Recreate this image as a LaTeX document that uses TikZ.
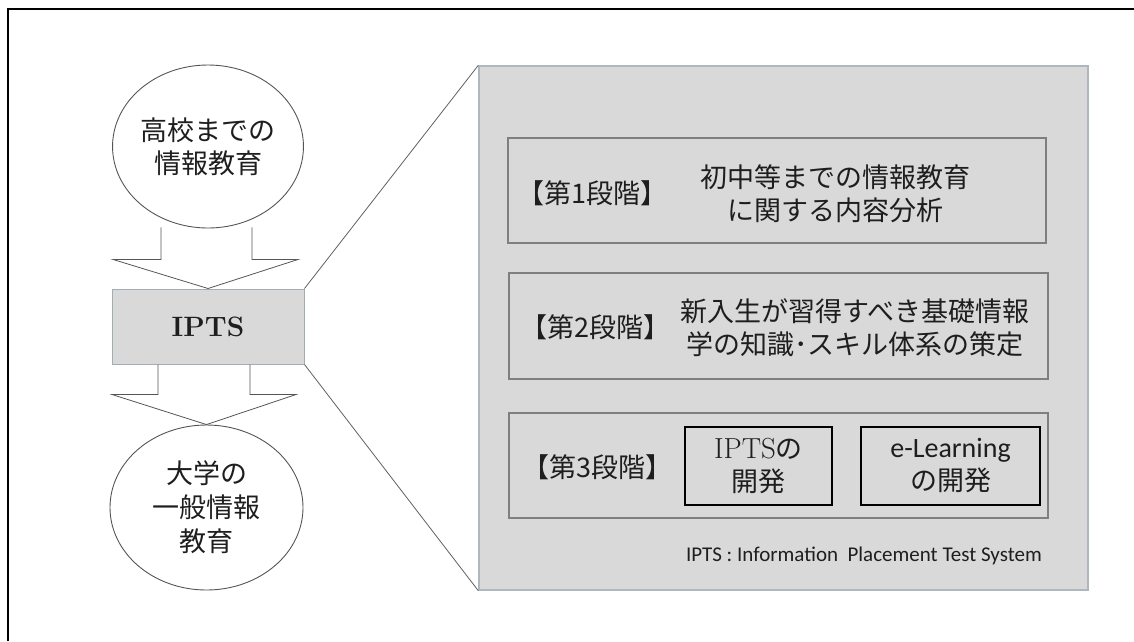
\documentclass[tikz,border=0pt]{standalone}
\usepackage{fontspec}
\newfontfamily\jp{Noto Sans CJK JP}
\newfontfamily\calfont{Carlito}
\usetikzlibrary{shapes.geometric,calc}
\definecolor{panelgray}{HTML}{D9D9D9}
\definecolor{paneledge}{HTML}{AEB6BE}
\definecolor{iptsedge}{HTML}{A4ACB4}
\definecolor{lineg}{HTML}{555555}
\definecolor{stageedge}{HTML}{7F7F7F}
\definecolor{txt}{HTML}{1E1E1E}
\tikzset{
  jptext/.style={font=\jp\fontsize{27}{33}\selectfont, text=txt, inner sep=0, align=center},
  oval/.style={ellipse, draw=lineg, line width=0.9pt, inner sep=0, jptext},
  blockarr/.style={draw=lineg, line width=0.8pt},
  zoomline/.style={draw=gray!75!black, line width=0.8pt},
  stagebox/.style={draw=stageedge, line width=1.1pt, inner sep=0},
  devbox/.style={draw=black, line width=2.6pt, inner sep=0, text=txt, align=center}
}
\begin{document}
\begin{tikzpicture}[x=1pt,y=-1pt]
\useasboundingbox (0,0) rectangle (1134,641);
% outer frame (top and left edges visible)
\draw[line width=2pt, black] (7.5,641) -- (7.5,9) -- (1134,9);

% right panel
\node[draw=paneledge, line width=1.4pt, fill=panelgray, minimum width=609pt, minimum height=524pt, inner sep=0] (panel) at (783.5,328) {};

% left column
\node[oval, minimum width=190pt, minimum height=163pt] (e1) at (208,146.5) {高校までの\\情報教育};
\node[draw=iptsedge, line width=1pt, fill=panelgray, minimum width=192pt, minimum height=75pt, inner sep=0,
      font=\fontsize{28}{32}\selectfont\bfseries, text=txt] (ipts) at (208,326.5) {IPTS};
\node[oval, minimum width=193pt, minimum height=165pt, font=\jp\fontsize{27}{34}\selectfont] (e2) at (206.5,507.5) {大学の\\一般情報\\教育};

% block arrows
\draw[blockarr] ($(e1.south)+(-47,-1)$) -- ($(e1.south)+(-47,31)$) -- ($(e1.south)+(-95,31)$)
  -- (ipts.north) -- ($(e1.south)+(90,31)$) -- ($(e1.south)+(44,31)$) -- ($(e1.south)+(44,-1)$);
\draw[blockarr] ($(ipts.south)+(-50,0)$) -- ($(ipts.south)+(-50,30)$) -- ($(ipts.south)+(-96,30)$)
  -- (e2.north) -- ($(ipts.south)+(88,30)$) -- ($(ipts.south)+(42,30)$) -- ($(ipts.south)+(42,0)$);

% zoom lines
\draw[zoomline] (ipts.north east) -- (panel.north west);
\draw[zoomline] (ipts.south east) -- (panel.south west);

% stage boxes
\node[stagebox, minimum width=538pt, minimum height=105pt] (s1) at (777,190.5) {};
\node[stagebox, minimum width=539pt, minimum height=106pt] (s2) at (778.5,326) {};
\node[stagebox, minimum width=539pt, minimum height=105pt] (s3) at (778.5,465.5) {};

\node[jptext] (l1) at (592,193) {【第1段階】};
\node[jptext] (t1) at (835,193.5) {初中等までの情報教育\\に関する内容分析};
\node[jptext] (l2) at (595,327) {【第2段階】};
\node[jptext] (t2) at (855,328) {新入生が習得すべき基礎情報\\学の知識･スキル体系の策定};
\node[jptext] (l3) at (597,467) {【第3段階】};

\node[devbox, minimum width=147pt, minimum height=78pt] (d1) at (758.5,466) {};
\node[jptext] (d1t) at (d1.center) {{\rmfamily\fontsize{29}{33}\selectfont IPTS}の\\開発};
\node[devbox, minimum width=179pt, minimum height=78pt] (d2) at (950.5,466) {};
\node[jptext] (d2t) at (d2.center) {{\calfont\fontsize{28}{33}\selectfont e-Learning}\\の開発};

\node[anchor=east, inner sep=0, text=txt, font=\calfont\fontsize{21}{23}\selectfont] (fn) at (1042,556) {IPTS : Information\ \ Placement Test System};
\end{tikzpicture}
\end{document}
